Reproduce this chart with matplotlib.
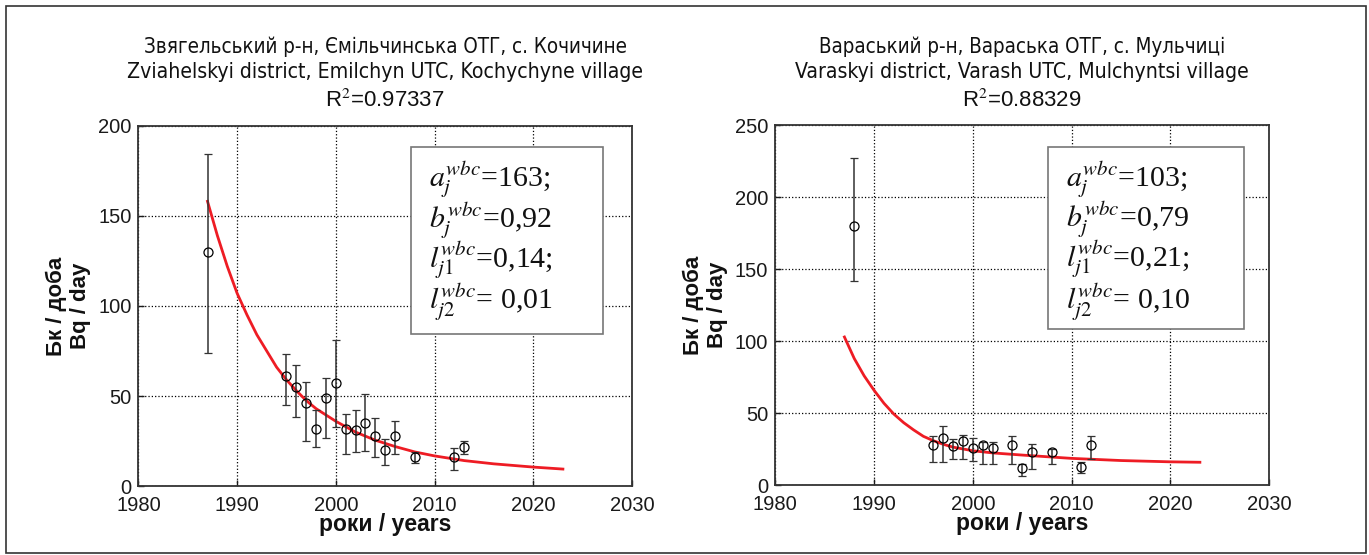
import numpy as np
import matplotlib
matplotlib.use("Agg")
import matplotlib.pyplot as plt
from matplotlib.patches import Rectangle

# ------------------------------------------------------------
# Data
# ------------------------------------------------------------
left_years = [1987, 1995, 1996, 1997, 1998, 1999, 2000, 2001, 2002, 2003, 2004, 2005, 2006, 2008, 2012, 2013]
left_vals = [130, 61, 55, 46, 32, 49, 57, 32, 31, 35, 28, 20, 28, 16, 16, 22]
left_lo = [74, 45, 38.5, 25, 22, 27, 33, 18, 19, 19.5, 16, 12, 18, 13, 9, 18]
left_hi = [184, 73.5, 67, 58, 42, 60, 81, 40, 42, 51, 38, 26, 36, 19, 21, 25]

left_fit_years = [1987, 1988, 1989, 1990, 1991, 1992, 1993, 1994, 1995, 1996, 1997, 1998,
                  2000, 2002, 2004, 2006, 2008, 2010, 2013, 2016, 2020, 2023]
left_fit_vals = [158, 139, 122, 107, 95, 84, 75, 66, 59, 53, 47.5, 43,
                 36, 30, 25.5, 22, 19, 16.8, 14.2, 12.4, 10.6, 9.5]

right_years = [1988, 1996, 1997, 1998, 1999, 2000, 2001, 2002, 2004, 2005, 2006, 2008, 2011, 2012]
right_vals = [180, 28, 33, 27, 31, 26, 28, 26, 28, 12, 23, 23, 13, 28]
right_lo = [142, 16, 16, 18, 18, 17, 15, 14.5, 14.5, 6.5, 11, 15, 8.5, 18]
right_hi = [227, 34, 41, 32, 35, 33, 30, 30, 34, 15, 29, 25, 16, 34]

right_fit_years = [1987, 1988, 1989, 1990, 1991, 1992, 1993, 1994, 1995, 1996, 1997, 1998,
                   2000, 2002, 2005, 2010, 2015, 2020, 2023]
right_fit_vals = [103, 88, 76, 66, 57, 49.5, 43.5, 38.5, 34, 31, 28.5, 26.5,
                  24, 22.5, 21, 18.7, 17.2, 16.3, 16]

titles_ua = ["Звягельський р-н, Ємільчинська ОТГ, с. Кочичине",
             "Вараський р-н, Вараська ОТГ, с. Мульчиці"]
titles_en = ["Zviahelskyi district, Emilchyn UTC, Kochychyne village",
             "Varaskyi district, Varash UTC, Mulchyntsi village"]
r2_values = ["0.97337", "0.88329"]
params = [["163;", "0,92", "0,14;", " 0,01"],
          ["103;", "0,79", "0,21;", " 0,10"]]
ymax = [200, 250]

plt.rcParams["mathtext.fontset"] = "stix"

W, H = 1369, 555
fig = plt.figure(figsize=(W / 100, H / 100), dpi=100)

# outer frame
fig.patches.append(Rectangle((5.7 / W, 2 / H), (1365.7 - 5.7) / W, (549.3 - 2) / H,
                             transform=fig.transFigure, fill=False,
                             edgecolor="#333333", linewidth=1.2))

# axes rectangles in pixels: left, top, right, bottom
boxes = [(138.4, 125.6, 632.0, 486.2), (775.3, 125.3, 1269.0, 485.3)]
panels = [
    (left_years, left_vals, left_lo, left_hi, left_fit_years, left_fit_vals),
    (right_years, right_vals, right_lo, right_hi, right_fit_years, right_fit_vals),
]

sym_lines = [r"$a_j^{wbc}$", r"$b_j^{wbc}$", r"$l_{j1}^{wbc}$", r"$l_{j2}^{wbc}$"]

for i, (x0, y0, x1, y1) in enumerate(boxes):
    ax = fig.add_axes([x0 / W, 1 - y1 / H, (x1 - x0) / W, (y1 - y0) / H])
    yrs, vals, lo, hi, fy, fv = panels[i]
    vals = np.array(vals)
    yerr = [vals - np.array(lo), np.array(hi) - vals]

    ax.plot(fy, fv, color="#ee1c24", lw=2.0, zorder=3)
    ax.errorbar(yrs, vals, yerr=yerr, fmt="o", mfc="none", mec="black", ms=6.5, mew=0.9,
                ecolor="#333333", elinewidth=1.1, capsize=2.6, capthick=1.1, zorder=4)

    ax.set_xlim(1980, 2030)
    ax.set_ylim(0, ymax[i])
    ax.set_xticks(range(1980, 2031, 10))
    ax.set_yticks(range(0, ymax[i] + 1, 50))
    ax.grid(True, linestyle=":", color="black", lw=0.9)
    ax.tick_params(direction="in", length=4, width=1, colors="#1a1a1a", labelsize=14.5)
    ax.tick_params(axis="x", pad=7)
    ax.tick_params(axis="y", pad=5)
    for lab in ax.get_xticklabels() + ax.get_yticklabels():
        lab.set_fontfamily("Liberation Sans")
    for sp in ax.spines.values():
        sp.set_color("#333333")
        sp.set_linewidth(1.3)

    # parameter box
    bx0 = 0.553
    bx1 = 0.942 if i == 0 else 0.949
    by0 = 0.422 if i == 0 else 0.433
    by1 = 0.941
    ax.add_patch(Rectangle((bx0, by0), bx1 - bx0, by1 - by0, transform=ax.transAxes,
                           facecolor="white", edgecolor="#777777", lw=1.2, zorder=5))
    baselines = [0.832, 0.719, 0.608, 0.493]
    for k in range(4):
        ax.text(0.588, baselines[k], sym_lines[k] + "=" + params[i][k],
                transform=ax.transAxes, fontsize=21.5, family="Liberation Serif",
                va="baseline", ha="left", zorder=6, color="#111111")

    # titles
    ax.text(0.5, 1.218, titles_ua[i], transform=ax.transAxes, ha="center", va="center",
            fontsize=14.8, family="DejaVu Sans", fontstretch="condensed", color="#111111")
    ax.text(0.5, 1.148, titles_en[i], transform=ax.transAxes, ha="center", va="center",
            fontsize=15.2, family="DejaVu Sans", fontstretch="condensed", color="#111111")
    ax.text(0.5, 1.068, "R$^2$=" + r2_values[i], transform=ax.transAxes, ha="center",
            va="center", fontsize=16, family="Liberation Sans", color="#111111")

    # axis labels
    ax.text(0.5, -0.106, "роки / years", transform=ax.transAxes, ha="center", va="center",
            fontsize=16.5, fontweight="bold", family="Liberation Sans", color="#111111")
    ax.text(-0.142, 0.5, "Бк / доба\nBq / day", transform=ax.transAxes, ha="center",
            va="center", rotation=90, multialignment="center", linespacing=1.2,
            fontsize=16, fontweight="bold", family="Liberation Sans", color="#111111")

fig.savefig("out.png", dpi=100)
